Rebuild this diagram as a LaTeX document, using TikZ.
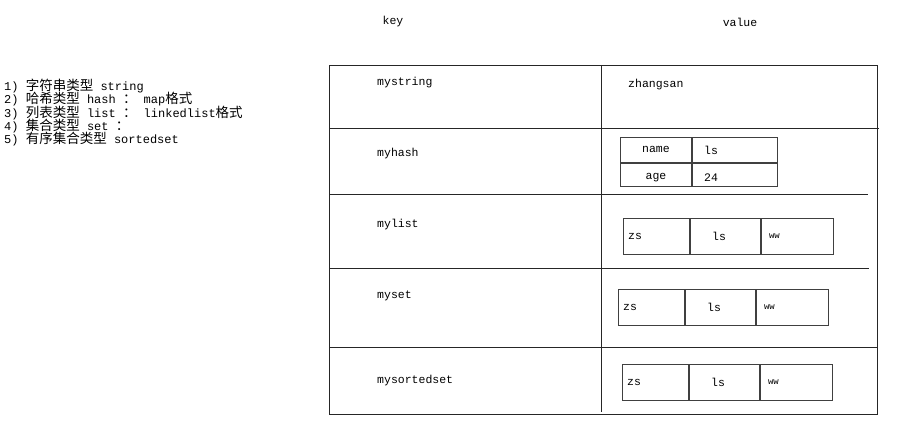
\documentclass[tikz,border=0pt]{standalone}
\usepackage{fontspec}
\setmainfont{Liberation Mono}
\newfontfamily\cjk{Noto Sans CJK SC}
\newcommand\zhtext[1]{{\cjk\fontsize{13.5}{13.2}\selectfont #1}}
\newcommand\typesfont{\fontsize{12}{13.2}\selectfont\lineskiplimit=-10pt\relax}
\usetikzlibrary{positioning}

\begin{document}
\begin{tikzpicture}[
    x=1pt, y=-1pt,                        % pixel-like grid, y going down
    font=\fontsize{11.5}{13}\selectfont,
    ]
% -------------------------------------------------
\tikzset{
  txt/.style={inner sep=0pt, anchor=west},
  rule/.style={draw=black!85, line width=0.9pt},
  cell/.style={draw=black!75, line width=0.9pt, inner sep=0pt, anchor=north west, minimum height=36pt},
  small/.style={font=\fontsize{9}{10}\selectfont}
}
\useasboundingbox (0,0) rectangle (913,433);

% type list
\node [txt, anchor=north west, align=left, font=\typesfont] (types) at (4,79) {%
  1) \zhtext{字符串类型} string\\
  2) \zhtext{哈希类型} hash \zhtext{：}~map\zhtext{格式}\\
  3) \zhtext{列表类型} list \zhtext{：}~linkedlist\zhtext{格式}\\
  4) \zhtext{集合类型} set \zhtext{：}\\
  5) \zhtext{有序集合类型} sortedset};

% headers
\node [txt, anchor=center] (keyhead) at (393,22) {key};
\node [txt, anchor=center] (valhead) at (740,22) {value};

% table frame
\draw [rule] (329,65) rectangle (877,414);
\draw [rule] (601,65) -- (601,412);
\draw [rule] (329,128) -- (879,128);
\draw [rule] (329,194) -- (868,194);
\draw [rule] (329,268) -- (869,268);
\draw [rule] (329,347) -- (877,347);

% keys
\node [txt] (kstring) at (377,83) {mystring};
\node [txt] (khash) at (377,154) {myhash};
\node [txt] (klist) at (377,225) {mylist};
\node [txt] (kset) at (377,296) {myset};
\node [txt] (ksorted) at (377,381) {mysortedset};

% values
\node [txt] (vstring) at (628,85) {zhangsan};

\node [cell, minimum width=71pt, minimum height=25pt] (hname) at (620,137) {};
\node [cell, minimum width=85pt, minimum height=25pt] (hls) at (hname.north east) {};
\node [cell, minimum width=71pt, minimum height=23pt] (hage) at (hname.south west) {};
\node [cell, minimum width=85pt, minimum height=23pt] (hnum) at (hage.north east) {};
\node [txt, anchor=center] (tname) at (hname.center) {name};
\node [txt, right=12pt of hls.west] (tls) {ls};
\node [txt, anchor=center, yshift=-3pt] (tage) at (hage.center) {age};
\node [txt, right=12pt of hnum.west, yshift=-3pt] (tnum) {24};

\foreach \nm/\x/\y in {list/623/218, set/618/289, sorted/622/364} {
  \node [cell, minimum width=66pt] (\nm a) at (\x,\y) {};
  \node [cell, minimum width=70pt] (\nm b) at (\nm a.north east) {};
  \node [cell, minimum width=72pt] (\nm c) at (\nm b.north east) {};
  \node [txt, right=5pt of \nm a.west] (\nm zs) {zs};
  \node [txt, right=22pt of \nm b.west] (\nm ls) {ls};
  \node [txt, small, right=8pt of \nm c.west] (\nm ww) {ww};
}
\end{tikzpicture}
\end{document}
